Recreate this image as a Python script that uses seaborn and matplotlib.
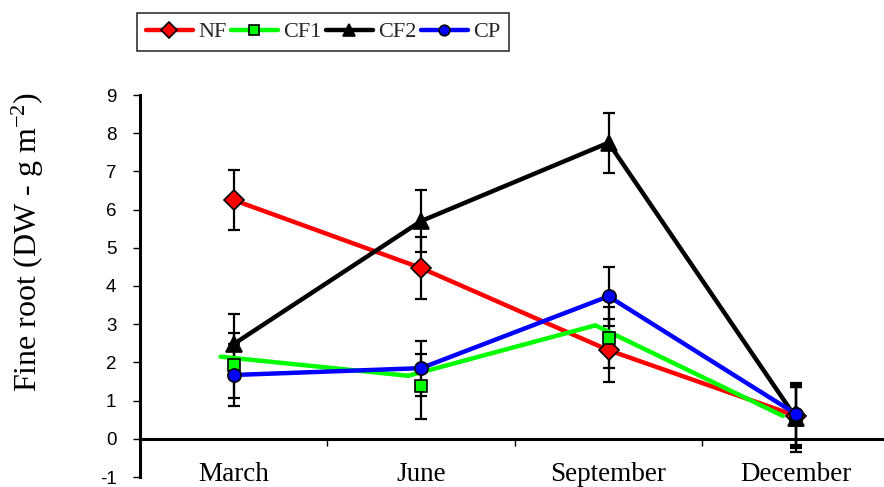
import matplotlib
matplotlib.use("Agg")
import matplotlib.pyplot as plt
import seaborn as sns
import numpy as np
from matplotlib.lines import Line2D

months = ["March", "June", "September", "December"]
series = ["NF", "CF1", "CF2", "CP"]
nf = [6.25, 4.47, 2.32, 0.60]
cf1 = [1.92, 1.37, 2.65, 0.50]
cf2 = [2.48, 5.70, 7.75, 0.55]
cp = [1.67, 1.85, 3.73, 0.65]
nf_err = [0.78, 0.80, 0.82, 0.80]
cf1_err = [0.85, 0.85, 0.80, 0.85]
cf2_err = [0.80, 0.82, 0.78, 0.80]
cp_err = [0.80, 0.72, 0.78, 0.80]
# the CF1 connecting line in the reference runs slightly off its markers
cf1_line = [2.15, 1.65, 2.97, 0.60]

sns.set_theme(style="white")
plt.rcParams['font.family'] = ['Liberation Serif', 'DejaVu Serif']
plt.rcParams['mathtext.fontset'] = 'custom'
plt.rcParams['mathtext.rm'] = 'Liberation Serif'

fig = plt.figure(figsize=(8.84, 4.87), dpi=100)
ax = fig.add_axes([140/884, 1-477/487, 1-140/884, (477-95)/487])

pos = np.arange(len(months))
colors = {"NF": "#ff0000", "CF1": "#00ff00", "CF2": "#000000", "CP": "#0000ff"}
markers = {"NF": "D", "CF1": "s", "CF2": "^", "CP": "o"}
msize = {"NF": 10, "CF1": 9, "CF2": 11, "CP": 9.5}
vals = {"NF": nf, "CF1": cf1, "CF2": cf2, "CP": cp}
errs = {"NF": nf_err, "CF1": cf1_err, "CF2": cf2_err, "CP": cp_err}

for s in series:
    ax.errorbar(pos, vals[s], yerr=errs[s], fmt="none", ecolor="black",
                elinewidth=1.6, capsize=4, capthick=1.6, zorder=2.5)

for i, s in enumerate(series):
    z = 3 + i * 0.1
    if s == "CF1":
        sns.lineplot(x=pos - 0.07, y=cf1_line, color=colors[s], linewidth=3.2,
                     ax=ax, zorder=z)
        ax.plot(pos, vals[s], linestyle="none", marker=markers[s],
                markersize=msize[s], markerfacecolor=colors[s],
                markeredgecolor="black", markeredgewidth=1.2, zorder=z + 0.05)
    else:
        sns.lineplot(x=pos, y=vals[s], color=colors[s], linewidth=3.2,
                     marker=markers[s], markersize=msize[s],
                     markerfacecolor=colors[s] if s != "CF2" else "black",
                     markeredgecolor="black", markeredgewidth=1.2,
                     ax=ax, zorder=z)

ax.set_xlim(-0.5, 3.47)
ax.set_ylim(-1, 9)

for sp in ["top", "right"]:
    ax.spines[sp].set_visible(False)
ax.spines["left"].set_linewidth(2.2)
ax.spines["left"].set_color("black")
ax.spines["bottom"].set_position(("data", 0))
ax.spines["bottom"].set_linewidth(2.2)
ax.spines["bottom"].set_color("black")

ax.set_yticks(range(-1, 10))
ax.set_yticklabels([str(v) for v in range(-1, 10)],
                   family=["Liberation Sans", "DejaVu Sans"], fontsize=13.5)
ax.tick_params(axis="y", which="major", direction="out", length=5, width=1,
               color="black", left=True, pad=12, labelcolor="black")

ax.set_xticks([0.5, 1.5, 2.5])
ax.set_xticklabels([])
ax.set_xticks(pos, minor=True)
ax.set_xticklabels(months, minor=True, fontsize=19.5)
ax.tick_params(axis="x", which="major", direction="out", length=5, width=1,
               color="black", bottom=True)
ax.tick_params(axis="x", which="minor", length=0, pad=17, labelcolor="black")

ax.set_ylabel("Fine root (DW - g m$\\mathregular{^{-2}}$)", fontsize=23,
              color="black")
ax.yaxis.set_label_coords((46 - 140) / 744, (477 - 242) / 382)
ax.grid(False)

handles = [Line2D([0], [0], color=colors[s], linewidth=3.2, marker=markers[s],
                  markersize=msize[s] * 0.8, markerfacecolor=colors[s],
                  markeredgecolor="black", markeredgewidth=1.2)
           for s in series]
leg = fig.legend(handles, series, loc="upper left",
                 bbox_to_anchor=(137/884, 1-13/487), ncol=4, fontsize=16,
                 frameon=True, fancybox=False, edgecolor="black",
                 handlelength=2.1, handletextpad=0.25, columnspacing=0.2,
                 borderpad=0.4, borderaxespad=0)
leg.get_frame().set_linewidth(1.2)

fig.savefig("out.png", dpi=100)
